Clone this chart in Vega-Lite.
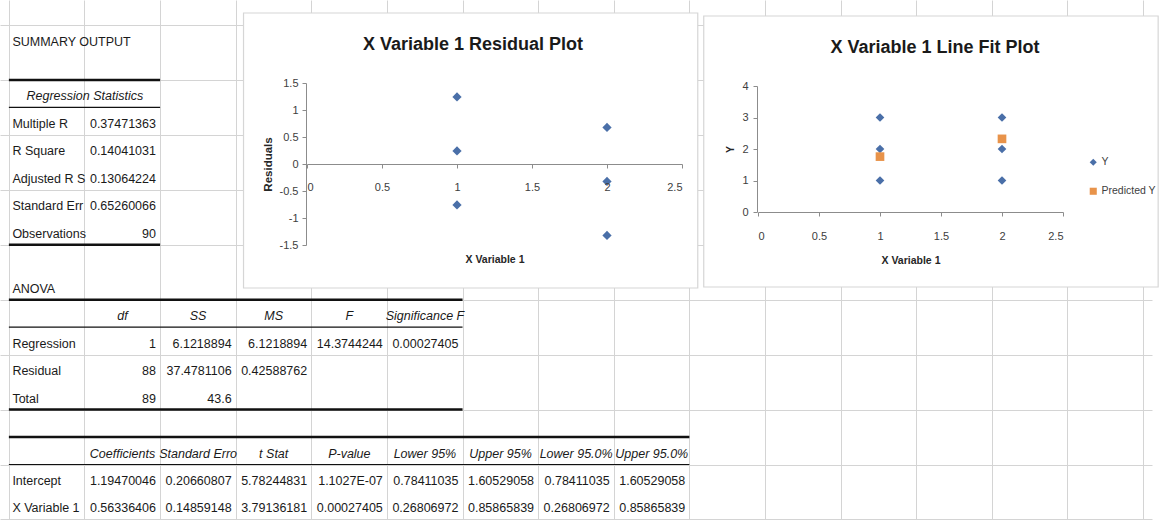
{
  "$schema": "https://vega.github.io/schema/vega-lite/v6.json",
  "width": 1159,
  "height": 520,
  "padding": 0,
  "autosize": {"type": "fit", "contains": "padding"},
  "background": "white",
  "config": {"view": {"stroke": null}, "font": "Liberation Sans, Arial, sans-serif"},
  "datasets": {
    "cells": [
      {"r": 1, "c": 0, "t": "SUMMARY OUTPUT", "kind": "title"},
      {"r": 3, "c": 0, "t": "Regression Statistics", "kind": "merged"},
      {"r": 4, "c": 0, "t": "Multiple R", "kind": "label"}, {"r": 4, "c": 1, "t": "0.37471363", "kind": "value"},
      {"r": 5, "c": 0, "t": "R Square", "kind": "label"}, {"r": 5, "c": 1, "t": "0.14041031", "kind": "value"},
      {"r": 6, "c": 0, "t": "Adjusted R Square", "kind": "label"}, {"r": 6, "c": 1, "t": "0.13064224", "kind": "value"},
      {"r": 7, "c": 0, "t": "Standard Error", "kind": "label"}, {"r": 7, "c": 1, "t": "0.65260066", "kind": "value"},
      {"r": 8, "c": 0, "t": "Observations", "kind": "label"}, {"r": 8, "c": 1, "t": "90", "kind": "value"},
      {"r": 10, "c": 0, "t": "ANOVA", "kind": "title"},
      {"r": 11, "c": 1, "t": "df", "kind": "header"}, {"r": 11, "c": 2, "t": "SS", "kind": "header"}, {"r": 11, "c": 3, "t": "MS", "kind": "header"}, {"r": 11, "c": 4, "t": "F", "kind": "header"}, {"r": 11, "c": 5, "t": "Significance F", "kind": "header"},
      {"r": 12, "c": 0, "t": "Regression", "kind": "label"}, {"r": 12, "c": 1, "t": "1", "kind": "value"}, {"r": 12, "c": 2, "t": "6.1218894", "kind": "value"}, {"r": 12, "c": 3, "t": "6.1218894", "kind": "value"}, {"r": 12, "c": 4, "t": "14.3744244", "kind": "value"}, {"r": 12, "c": 5, "t": "0.00027405", "kind": "value"},
      {"r": 13, "c": 0, "t": "Residual", "kind": "label"}, {"r": 13, "c": 1, "t": "88", "kind": "value"}, {"r": 13, "c": 2, "t": "37.4781106", "kind": "value"}, {"r": 13, "c": 3, "t": "0.42588762", "kind": "value"},
      {"r": 14, "c": 0, "t": "Total", "kind": "label"}, {"r": 14, "c": 1, "t": "89", "kind": "value"}, {"r": 14, "c": 2, "t": "43.6", "kind": "value"},
      {"r": 16, "c": 1, "t": "Coefficients", "kind": "header"}, {"r": 16, "c": 2, "t": "Standard Error", "kind": "header"}, {"r": 16, "c": 3, "t": "t Stat", "kind": "header"}, {"r": 16, "c": 4, "t": "P-value", "kind": "header"}, {"r": 16, "c": 5, "t": "Lower 95%", "kind": "header"}, {"r": 16, "c": 6, "t": "Upper 95%", "kind": "header"}, {"r": 16, "c": 7, "t": "Lower 95.0%", "kind": "header"}, {"r": 16, "c": 8, "t": "Upper 95.0%", "kind": "header"},
      {"r": 17, "c": 0, "t": "Intercept", "kind": "label"}, {"r": 17, "c": 1, "t": "1.19470046", "kind": "value"}, {"r": 17, "c": 2, "t": "0.20660807", "kind": "value"}, {"r": 17, "c": 3, "t": "5.78244831", "kind": "value"}, {"r": 17, "c": 4, "t": "1.1027E-07", "kind": "value"}, {"r": 17, "c": 5, "t": "0.78411035", "kind": "value"}, {"r": 17, "c": 6, "t": "1.60529058", "kind": "value"}, {"r": 17, "c": 7, "t": "0.78411035", "kind": "value"}, {"r": 17, "c": 8, "t": "1.60529058", "kind": "value"},
      {"r": 18, "c": 0, "t": "X Variable 1", "kind": "label"}, {"r": 18, "c": 1, "t": "0.56336406", "kind": "value"}, {"r": 18, "c": 2, "t": "0.14859148", "kind": "value"}, {"r": 18, "c": 3, "t": "3.79136181", "kind": "value"}, {"r": 18, "c": 4, "t": "0.00027405", "kind": "value"}, {"r": 18, "c": 5, "t": "0.26806972", "kind": "value"}, {"r": 18, "c": 6, "t": "0.85865839", "kind": "value"}, {"r": 18, "c": 7, "t": "0.26806972", "kind": "value"}, {"r": 18, "c": 8, "t": "0.85865839", "kind": "value"}
    ],
    "borders": [
      {"k": 3, "c0": 0, "c1": 2, "line": "outer"},
      {"k": 4, "c0": 0, "c1": 2, "line": "inner"},
      {"k": 9, "c0": 0, "c1": 2, "line": "outer"},
      {"k": 11, "c0": 0, "c1": 6, "line": "outer"},
      {"k": 12, "c0": 0, "c1": 6, "line": "inner"},
      {"k": 15, "c0": 0, "c1": 6, "line": "outer"},
      {"k": 16, "c0": 0, "c1": 9, "line": "outer"},
      {"k": 17, "c0": 0, "c1": 9, "line": "inner"}
    ],
    "charts": [
      {"chart": "Residual", "title": "X Variable 1  Residual Plot"},
      {"chart": "LineFit", "title": "X Variable 1 Line Fit  Plot"}
    ],
    "resid": [
      {"x": 1, "residual": 1.2423},
      {"x": 1, "residual": 0.2423},
      {"x": 1, "residual": -0.7577},
      {"x": 2, "residual": 0.6782},
      {"x": 2, "residual": -0.3218},
      {"x": 2, "residual": -1.3218}
    ],
    "fit": [
      {"x": 1, "value": 1, "series": "Y"},
      {"x": 1, "value": 2, "series": "Y"},
      {"x": 1, "value": 3, "series": "Y"},
      {"x": 2, "value": 1, "series": "Y"},
      {"x": 2, "value": 2, "series": "Y"},
      {"x": 2, "value": 3, "series": "Y"},
      {"x": 1, "value": 1.7581, "series": "Predicted Y"},
      {"x": 2, "value": 2.3217, "series": "Predicted Y"}
    ]
  },
  "layer": [
    {
      "layer": [
        {
          "data": {"name": "charts"},
          "transform": [{"filter": "datum.chart === 'Residual'"}],
          "mark": {"type": "rect", "fill": "white", "stroke": "#d6d6d6", "strokeWidth": 1.2},
          "encoding": {
            "x": {"datum": 3.1034, "type": "quantitative", "scale": {"domain": [-0.1174, 15.1186], "nice": false, "zero": false}, "axis": {"orient": "bottom", "grid": true, "gridColor": "#d4d4d4", "gridWidth": 1, "values": [0,1,2,3,4,5,6,7,8,9,10,11,12,13,14,15], "labels": false, "ticks": false, "domain": false, "title": null, "zindex": 0}},
            "x2": {"datum": 9.111},
            "y": {"datum": 0.5632, "type": "quantitative", "scale": {"domain": [0.0899, 19.0197], "nice": false, "zero": false, "reverse": true}, "axis": {"orient": "left", "grid": true, "gridColor": "#d4d4d4", "gridWidth": 1, "values": [1,2,3,4,5,6,7,8,9,10,11,12,13,14,15,16,17,18,19], "labels": false, "ticks": false, "domain": false, "title": null, "zindex": 0}},
            "y2": {"datum": 10.574}
          }
        },
        {
          "data": {"name": "charts"},
          "transform": [{"filter": "datum.chart === 'LineFit'"}],
          "mark": {"type": "rect", "fill": "white", "stroke": "#d6d6d6", "strokeWidth": 1.2},
          "encoding": {
            "x": {"datum": 9.19, "type": "quantitative"},
            "x2": {"datum": 15.2},
            "y": {"datum": 0.672, "type": "quantitative"},
            "y2": {"datum": 10.538}
          }
        },
        {
          "data": {"name": "borders"},
          "mark": {"type": "rule", "color": "#111111"},
          "encoding": {
            "x": {"field": "c0", "type": "quantitative"},
            "x2": {"field": "c1"},
            "y": {"field": "k", "type": "quantitative"},
            "strokeWidth": {"field": "line", "type": "nominal", "scale": {"domain": ["outer", "inner"], "range": [2.5, 1.1]}, "legend": null}
          }
        },
        {
          "data": {"name": "cells"},
          "transform": [{"filter": "datum.kind === 'title'"}],
          "mark": {"type": "text", "align": "left", "baseline": "middle", "dx": 3.5, "dy": 16.5, "fontSize": 12.5, "color": "#1a1a1a"},
          "encoding": {"x": {"field": "c", "type": "quantitative"}, "y": {"field": "r", "type": "quantitative"}, "text": {"field": "t"}}
        },
        {
          "data": {"name": "cells"},
          "transform": [{"filter": "datum.kind === 'label'"}],
          "mark": {"type": "text", "align": "left", "baseline": "middle", "dx": 3.5, "dy": 16.5, "fontSize": 12.5, "limit": 74, "ellipsis": "\u200b", "color": "#1a1a1a"},
          "encoding": {"x": {"field": "c", "type": "quantitative"}, "y": {"field": "r", "type": "quantitative"}, "text": {"field": "t"}}
        },
        {
          "data": {"name": "cells"},
          "transform": [{"filter": "datum.kind === 'value'"}],
          "mark": {"type": "text", "align": "right", "baseline": "middle", "dx": 71.5, "dy": 16.5, "fontSize": 12.5, "color": "#1a1a1a"},
          "encoding": {"x": {"field": "c", "type": "quantitative"}, "y": {"field": "r", "type": "quantitative"}, "text": {"field": "t"}}
        },
        {
          "data": {"name": "cells"},
          "transform": [{"filter": "datum.kind === 'header'"}],
          "mark": {"type": "text", "align": "center", "baseline": "middle", "dx": 38, "dy": 16.5, "fontSize": 12.5, "fontStyle": "italic", "limit": 79, "ellipsis": "\u200b", "color": "#1a1a1a"},
          "encoding": {"x": {"field": "c", "type": "quantitative"}, "y": {"field": "r", "type": "quantitative"}, "text": {"field": "t"}}
        },
        {
          "data": {"name": "cells"},
          "transform": [{"filter": "datum.kind === 'merged'"}],
          "mark": {"type": "text", "align": "center", "baseline": "middle", "dx": 76, "dy": 16.5, "fontSize": 12.5, "fontStyle": "italic", "color": "#1a1a1a"},
          "encoding": {"x": {"field": "c", "type": "quantitative"}, "y": {"field": "r", "type": "quantitative"}, "text": {"field": "t"}}
        }
      ]
    },
    {
      "layer": [
        {
          "data": {"name": "resid"},
          "mark": {"type": "point", "shape": "diamond", "filled": true, "color": "#4A6FA8", "opacity": 1, "size": 85},
          "encoding": {
            "x": {"field": "x", "type": "quantitative", "scale": {"domain": [0, 2.5], "range": [307, 682], "nice": false, "zero": false},
                  "axis": {"orient": "bottom", "offset": -356, "values": [0, 0.5, 1, 1.5, 2, 2.5], "labelExpr": "'' + datum.value", "grid": false, "tickSize": 4, "tickColor": "#8c8c8c", "domainColor": "#8c8c8c", "labelPadding": 13, "labelFontSize": 11, "labelColor": "#404040", "title": "X Variable 1", "titleFontSize": 10.5, "titleFontWeight": "bold", "titleColor": "#262626", "titlePadding": 62, "zindex": 1}},
            "y": {"field": "residual", "type": "quantitative", "scale": {"domain": [-1.5, 1.5], "range": [245, 83], "nice": false, "zero": false},
                  "axis": {"orient": "left", "offset": -306, "values": [-1.5, -1, -0.5, 0, 0.5, 1, 1.5], "labelExpr": "'' + datum.value", "grid": false, "tickSize": 4, "tickColor": "#8c8c8c", "domainColor": "#8c8c8c", "labelPadding": 4, "labelFontSize": 11, "labelColor": "#404040", "title": "Residuals", "titleFontSize": 11.5, "titleFontWeight": "bold", "titleColor": "#262626", "titlePadding": 6, "zindex": 1}}
          }
        },
        {
          "data": {"name": "charts"},
          "transform": [{"filter": "datum.chart === 'Residual'"}],
          "mark": {"type": "text", "align": "center", "baseline": "middle", "fontSize": 18, "fontWeight": "bold", "color": "#1a1a1a"},
          "encoding": {
            "x": {"datum": 1.107, "type": "quantitative"},
            "y": {"datum": 2.204, "type": "quantitative"},
            "text": {"field": "title"}
          }
        }
      ]
    },
    {
      "layer": [
        {
          "data": {"name": "fit"},
          "mark": {"type": "point", "filled": true, "opacity": 1, "size": 75},
          "encoding": {
            "x": {"field": "x", "type": "quantitative", "scale": {"domain": [0, 2.5], "range": [758, 1063], "nice": false, "zero": false},
                  "axis": {"orient": "bottom", "offset": -308, "values": [0, 0.5, 1, 1.5, 2, 2.5], "labelExpr": "'' + datum.value", "grid": false, "tickSize": 4, "tickColor": "#8c8c8c", "domainColor": "#8c8c8c", "labelPadding": 14, "labelFontSize": 11, "labelColor": "#404040", "title": "X Variable 1", "titleFontSize": 10.5, "titleFontWeight": "bold", "titleColor": "#262626", "titlePadding": 14, "zindex": 1}},
            "y": {"field": "value", "type": "quantitative", "scale": {"domain": [0, 4], "range": [212, 86], "nice": false, "zero": false},
                  "axis": {"orient": "left", "offset": -757, "values": [0, 1, 2, 3, 4], "labelExpr": "'' + datum.value", "grid": false, "tickSize": 4, "tickColor": "#8c8c8c", "domainColor": "#8c8c8c", "labelPadding": 5, "labelFontSize": 11, "labelColor": "#404040", "title": "Y", "titleFontSize": 10.5, "titleFontWeight": "bold", "titleColor": "#262626", "titlePadding": 6, "zindex": 1}},
            "color": {"field": "series", "type": "nominal", "scale": {"domain": ["Y", "Predicted Y"], "range": ["#4A6FA8", "#E8934A"]},
                      "legend": {"orient": "none", "legendX": 1088, "legendY": 157, "title": null, "padding": 0, "labelFontSize": 10.5, "labelColor": "#404040", "labelOffset": 3, "symbolSize": 50, "rowPadding": 18}},
            "shape": {"field": "series", "type": "nominal", "scale": {"domain": ["Y", "Predicted Y"], "range": ["diamond", "square"]},
                      "legend": {"orient": "none", "legendX": 1088, "legendY": 157, "title": null, "padding": 0, "labelFontSize": 10.5, "labelColor": "#404040", "labelOffset": 3, "symbolSize": 50, "rowPadding": 18}}
          }
        },
        {
          "data": {"name": "charts"},
          "transform": [{"filter": "datum.chart === 'LineFit'"}],
          "mark": {"type": "text", "align": "center", "baseline": "middle", "fontSize": 18, "fontWeight": "bold", "color": "#1a1a1a"},
          "encoding": {
            "x": {"datum": 1.451, "type": "quantitative"},
            "y": {"datum": 5.206, "type": "quantitative"},
            "text": {"field": "title"}
          }
        }
      ]
    }
  ],
  "resolve": {
    "scale": {"x": "independent", "y": "independent", "color": "independent", "shape": "independent", "strokeWidth": "independent"},
    "axis": {"x": "independent", "y": "independent"},
    "legend": {"color": "independent", "shape": "independent"}
  }
}
